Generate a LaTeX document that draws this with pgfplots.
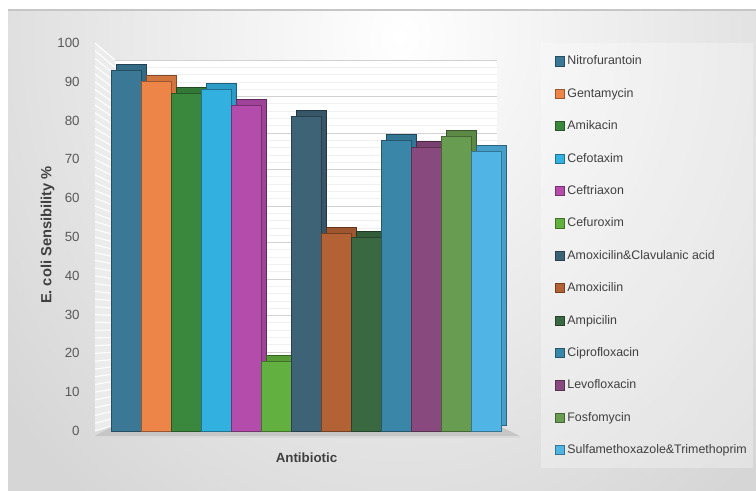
\documentclass[border=0pt]{standalone}
\usepackage{pgfplots}
\pgfplotsset{compat=1.18}
\usepackage{fontspec}
\setmainfont{Liberation Sans}
\definecolor{c1}{RGB}{58,120,150}
\definecolor{c2}{RGB}{238,133,72}
\definecolor{c3}{RGB}{58,136,62}
\definecolor{c4}{RGB}{50,176,224}
\definecolor{c5}{RGB}{180,76,172}
\definecolor{c6}{RGB}{98,176,64}
\definecolor{c7}{RGB}{62,98,118}
\definecolor{c8}{RGB}{178,98,52}
\definecolor{c9}{RGB}{58,104,64}
\definecolor{c10}{RGB}{58,134,168}
\definecolor{c11}{RGB}{136,74,126}
\definecolor{c12}{RGB}{104,156,80}
\definecolor{c13}{RGB}{80,180,228}
\definecolor{txt}{RGB}{64,64,64}
\definecolor{tick}{RGB}{89,89,89}
\begin{document}
\begin{tikzpicture}[x=1pt,y=1pt]
\useasboundingbox (0,0) rectangle (567,367.5);
% chart area background
\begin{scope}
\clip (6,-2) rectangle (569,360);
\fill[gray!32] (6,-2) rectangle (569,360);
\shade[inner color=white, outer color=gray!32] (300,340) ellipse (380 and 440);
\end{scope}
\draw[gray!45, line width=1.2pt] (6,360) -- (567,360);
% legend panel
\fill[white, opacity=0.3] (406,16.5) rectangle (565,335);
% back wall
\fill[white] (86.25,48.75) rectangle (372.75,322.5);
\foreach \v in {0,2,...,100} {
  \draw[gray!12, line width=0.5pt] (86.25,48.75+2.7375*\v) -- (372.75,48.75+2.7375*\v);
}
\foreach \v in {0,10,...,100} {
  \draw[gray!35, line width=0.6pt] (86.25,48.75+2.7375*\v) -- (372.75,48.75+2.7375*\v);
}
% side wall
\fill[gray!15] (71.25,44.25) -- (86.25,48.75) -- (86.25,322.5) -- (71.25,335.25) -- cycle;
\foreach \v in {0,2,...,100} {
  \draw[white, line width=0.8pt] (86.25,48.75+2.7375*\v) -- (71.25,44.25+2.91*\v);
}
% floor
\fill[gray!45] (71.25,40.5) -- (390,40.5) -- (372.75,48.75) -- (86.25,48.75) -- cycle;
\fill[gray!30] (71.25,40.5) -- (390,40.5) -- (390,39) -- (71.25,39) -- cycle;
\begin{axis}[
  at={(71.25pt,44.25pt)}, anchor=south west, scale only axis,
  width=317.25pt, height=291pt,
  xmin=-1, xmax=1, ymin=0, ymax=100,
  ybar=0pt, bar width=22.5pt,
  axis line style={draw=none}, tick style={draw=none},
  xtick=\empty, ytick={0,10,...,100},
  /pgf/number format/assume math mode=true,
  yticklabel style={font=\fontsize{10}{12}\selectfont, text=tick, anchor=east, xshift=-8pt},
  ylabel={E. coli Sensibility \%},
  ylabel style={font=\bfseries\fontsize{11}{13}\selectfont, text=txt, at={(axis description cs:-0.112,0.505)}, anchor=center},
  xlabel={Antibiotic},
  xlabel style={font=\bfseries\fontsize{10}{12}\selectfont, text=txt, at={(axis description cs:0.5,-0.07)}, anchor=center},
  legend style={at={(rel axis cs:1.078,0.975)}, anchor=north west, draw=none, fill=none,
    font=\fontsize{9.3}{11}\selectfont, text=txt, row sep=15.3pt, column sep=2pt,
    nodes={inner sep=0pt, text height=7pt, text depth=2pt}},
  legend cell align=left,
  legend image code/.code={\draw[#1] (0pt,-3.2pt) rectangle (6.5pt,3.6pt);},
  bk/.style={fill=#1!88!black, draw=#1!55!black, xshift=3.75pt, yshift=4.5pt, forget plot, line width=0.6pt},
  fr/.style={fill=#1, draw=#1!65!black, line width=0.6pt},
]
% depth (back copies)
\addplot[bk=c1, bar shift=-135pt] coordinates {(0,93)};
\addplot[bk=c2, bar shift=-112.5pt] coordinates {(0,90)};
\addplot[bk=c3, bar shift=-90pt] coordinates {(0,87)};
\addplot[bk=c4, bar shift=-67.5pt] coordinates {(0,88)};
\addplot[bk=c5, bar shift=-45pt] coordinates {(0,84)};
\addplot[bk=c6, bar shift=-22.5pt] coordinates {(0,18)};
\addplot[bk=c7, bar shift=0pt] coordinates {(0,81)};
\addplot[bk=c8, bar shift=22.5pt] coordinates {(0,51)};
\addplot[bk=c9, bar shift=45pt] coordinates {(0,50)};
\addplot[bk=c10, bar shift=67.5pt] coordinates {(0,75)};
\addplot[bk=c11, bar shift=90pt] coordinates {(0,73)};
\addplot[bk=c12, bar shift=112.5pt] coordinates {(0,76)};
\addplot[bk=c13, bar shift=135pt] coordinates {(0,72)};
% front faces
\addplot[fr=c1, bar shift=-135pt] coordinates {(0,93)};
\addplot[fr=c2, bar shift=-112.5pt] coordinates {(0,90)};
\addplot[fr=c3, bar shift=-90pt] coordinates {(0,87)};
\addplot[fr=c4, bar shift=-67.5pt] coordinates {(0,88)};
\addplot[fr=c5, bar shift=-45pt] coordinates {(0,84)};
\addplot[fr=c6, bar shift=-22.5pt] coordinates {(0,18)};
\addplot[fr=c7, bar shift=0pt] coordinates {(0,81)};
\addplot[fr=c8, bar shift=22.5pt] coordinates {(0,51)};
\addplot[fr=c9, bar shift=45pt] coordinates {(0,50)};
\addplot[fr=c10, bar shift=67.5pt] coordinates {(0,75)};
\addplot[fr=c11, bar shift=90pt] coordinates {(0,73)};
\addplot[fr=c12, bar shift=112.5pt] coordinates {(0,76)};
\addplot[fr=c13, bar shift=135pt] coordinates {(0,72)};
\legend{Nitrofurantoin, Gentamycin, Amikacin, Cefotaxim, Ceftriaxon, Cefuroxim,
  Amoxicilin\&Clavulanic acid, Amoxicilin, Ampicilin, Ciprofloxacin, Levofloxacin,
  Fosfomycin, Sulfamethoxazole\&Trimethoprim}
\end{axis}
\end{tikzpicture}
\end{document}
